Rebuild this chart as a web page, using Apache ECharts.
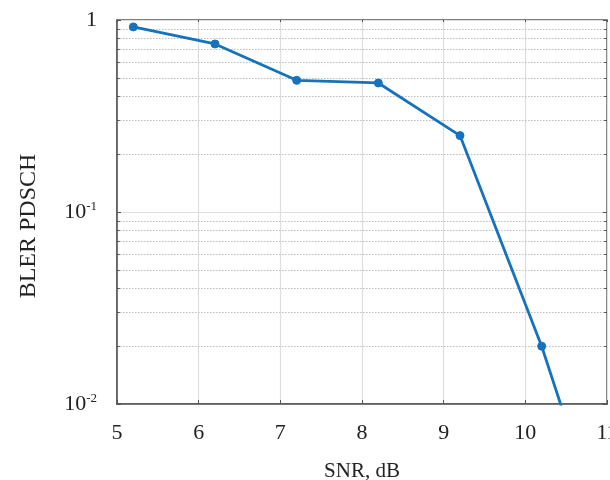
<!DOCTYPE html>
<html><head><meta charset="utf-8">
<script src="https://cdn.jsdelivr.net/npm/echarts@6/dist/echarts.min.js"></script>
<style>html,body{margin:0;padding:0;background:#fff}#c{width:610px;height:480px}</style>
</head><body><div id="c"></div>
<script>
const snr = [5.2, 6.2, 7.2, 8.2, 9.2, 10.2, 11.2];
const bler = [0.92, 0.75, 0.485, 0.47, 0.25, 0.02, 0.001];
const minorLevels = [0.02,0.03,0.04,0.05,0.06,0.07,0.08,0.09,0.2,0.3,0.4,0.5,0.6,0.7,0.8,0.9];
const majorLevels = [0.01, 0.1, 1];
const xTicks = [5, 6, 7, 8, 9, 10, 11];
const xLabel = 'SNR, dB';
const yLabel = 'BLER PDSCH';

const font = 'Liberation Serif';
const axisColor = '#555555';
const X0 = 5, X1 = 11, Y0 = 0.01, Y1 = 1;

// tick segments expressed in data units (drawn through the axes)
const tickLen = 0.05;
const sideTicks = [];
minorLevels.forEach(v => {
  sideTicks.push([{coord: [X0, v]}, {coord: [X0 + tickLen * 0.7, v]}]);
  sideTicks.push([{coord: [X1, v]}, {coord: [X1 - tickLen * 0.7, v]}]);
});
majorLevels.forEach(v => {
  sideTicks.push([{coord: [X1, v]}, {coord: [X1 - tickLen, v]}]);
});
xTicks.forEach(x => {
  sideTicks.push([{coord: [x, Y1]}, {coord: [x, Y1 * 0.975]}]);
});

const chart = echarts.init(document.getElementById('c'));
chart.setOption({
  animation: false,
  grid: {left: 117, right: 3, top: 20, bottom: 76, outerBoundsMode: 'none', containLabel: false,
         show: true, borderColor: axisColor, borderWidth: 1.5},
  xAxis: {
    type: 'value', min: X0, max: X1, interval: 1,
    name: xLabel, nameLocation: 'middle', nameGap: 57,
    nameTextStyle: {fontFamily: font, fontSize: 21, color: '#222'},
    axisLine: {show: true, lineStyle: {color: axisColor, width: 1.5}},
    axisTick: {show: true, inside: true, length: 4, lineStyle: {color: axisColor}},
    axisLabel: {fontFamily: font, fontSize: 22, color: '#222', margin: 18},
    splitLine: {show: true, lineStyle: {color: '#dedede', width: 1.2}}
  },
  yAxis: {
    type: 'log', logBase: 10, min: Y0, max: Y1,
    name: yLabel, nameLocation: 'middle', nameGap: 76, nameRotate: 90,
    nameTextStyle: {fontFamily: font, fontSize: 24, color: '#222', padding: [0, 28, 0, 0]},
    axisLine: {show: true, lineStyle: {color: axisColor, width: 1.5}},
    axisTick: {show: true, inside: true, length: 4, lineStyle: {color: axisColor}},
    axisLabel: {
      margin: 20, fontFamily: font, color: '#222',
      formatter: function (v) {
        const e = Math.round(Math.log10(v));
        if (e === 0) return '{b|1}';
        return '{b|10}{s|' + e + '}';
      },
      rich: {
        b: {fontFamily: font, fontSize: 22, color: '#222'},
        s: {fontFamily: font, fontSize: 13, color: '#222', verticalAlign: 'top', padding: [0, 0, 11, 0]}
      }
    },
    splitLine: {show: true, lineStyle: {color: '#dedede', width: 1.2}}
  },
  series: [
    {
      type: 'line', data: [], silent: true, z: 1,
      markLine: {
        silent: true, symbol: 'none', label: {show: false}, z: 1,
        lineStyle: {color: '#bdbdbd', type: [1.5, 1.5], width: 1},
        data: minorLevels.map(v => ({yAxis: v}))
      }
    },
    {
      type: 'line', data: [], silent: true, z: 1,
      markLine: {
        silent: true, symbol: 'none', label: {show: false}, z: 1,
        lineStyle: {color: axisColor, type: 'solid', width: 1},
        data: sideTicks
      }
    },
    {
      type: 'line', clip: true, z: 10,
      data: snr.map((x, i) => [x, bler[i]]),
      symbol: 'circle', symbolSize: 8,
      lineStyle: {color: '#1672BC', width: 2.8},
      itemStyle: {color: '#1672BC', borderColor: '#1672BC', borderWidth: 1, opacity: 1}
    }
  ]
});
</script></body></html>
